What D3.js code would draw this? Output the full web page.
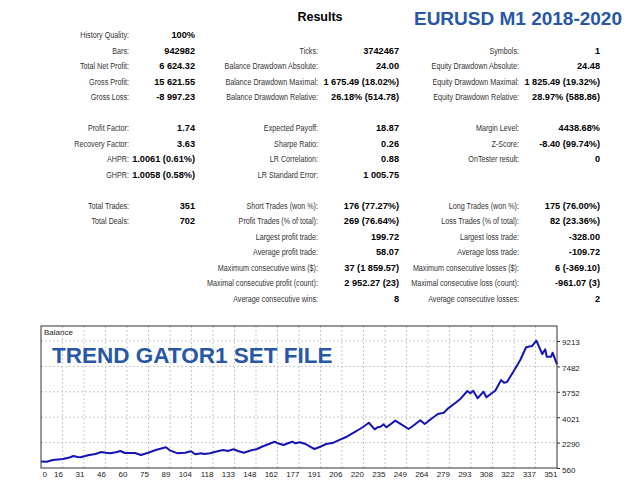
<!DOCTYPE html>
<html>
<head>
  <meta charset="utf-8">
  <title>Results</title>
  <style>
    body { margin: 0; background: #fff; }
    svg { display: block; font-family: "Liberation Sans", Arial, sans-serif; }
    .lbl { font-size: 9px; fill: #333; }
    .val { font-size: 9.2px; font-weight: bold; fill: #000; }
    .axis text { font-size: 8px; fill: #222; }
    .grid line { stroke: #c8c8c8; stroke-dasharray: 2,2; }
  </style>
</head>
<body>
<svg id="chart" width="640" height="480"></svg>
<script src="https://d3js.org/d3.v7.min.js"></script>
<script>
  // report rows: [row, label, value]
  const col1 = [
    [0, "History Quality:", "100%"],
    [1, "Bars:", "942982"],
    [2, "Total Net Profit:", "6 624.32"],
    [3, "Gross Profit:", "15 621.55"],
    [4, "Gross Loss:", "-8 997.23"],
    [6, "Profit Factor:", "1.74"],
    [7, "Recovery Factor:", "3.63"],
    [8, "AHPR:", "1.0061 (0.61%)"],
    [9, "GHPR:", "1.0058 (0.58%)"],
    [11, "Total Trades:", "351"],
    [12, "Total Deals:", "702"]
  ];
  const col2 = [
    [1, "Ticks:", "3742467"],
    [2, "Balance Drawdown Absolute:", "24.00"],
    [3, "Balance Drawdown Maximal:", "1 675.49 (18.02%)"],
    [4, "Balance Drawdown Relative:", "26.18% (514.78)"],
    [6, "Expected Payoff:", "18.87"],
    [7, "Sharpe Ratio:", "0.26"],
    [8, "LR Correlation:", "0.88"],
    [9, "LR Standard Error:", "1 005.75"],
    [11, "Short Trades (won %):", "176 (77.27%)"],
    [12, "Profit Trades (% of total):", "269 (76.64%)"],
    [13, "Largest profit trade:", "199.72"],
    [14, "Average profit trade:", "58.07"],
    [15, "Maximum consecutive wins ($):", "37 (1 859.57)"],
    [16, "Maximal consecutive profit (count):", "2 952.27 (23)"],
    [17, "Average consecutive wins:", "8"]
  ];
  const col3 = [
    [1, "Symbols:", "1"],
    [2, "Equity Drawdown Absolute:", "24.48"],
    [3, "Equity Drawdown Maximal:", "1 825.49 (19.32%)"],
    [4, "Equity Drawdown Relative:", "28.97% (588.86)"],
    [6, "Margin Level:", "4438.68%"],
    [7, "Z-Score:", "-8.40 (99.74%)"],
    [8, "OnTester result:", "0"],
    [11, "Long Trades (won %):", "175 (76.00%)"],
    [12, "Loss Trades (% of total):", "82 (23.36%)"],
    [13, "Largest loss trade:", "-328.00"],
    [14, "Average loss trade:", "-109.72"],
    [15, "Maximum consecutive losses ($):", "6 (-369.10)"],
    [16, "Maximal consecutive loss (count):", "-961.07 (3)"],
    [17, "Average consecutive losses:", "2"]
  ];

  // balance curve (trade number, balance)
  const trades = [0,4,8,15,20,22,25,27,32,37,41,44,47,51,54,57,64,68,73,78,
    85,88,93,98,102,105,109,111,115,120,124,127,131,134,138,142,147,151,155,159,
    161,165,168,171,173,176,180,183,186,190,194,199,203,208,215,219,223,227,229,231,
    233,235,241,244,250,253,258,261,266,270,274,277,280,282,285,290,292,294,297,301,
    303,307,309,313,315,317,322,326,330,334,337,341,343,344,347,348,351];
  const balance = [1000,990,1105,1175,1290,1380,1310,1290,1425,1515,1650,1600,1560,1630,1720,1580,1580,1445,1600,1785,
    1970,1740,1560,1600,1700,1495,1560,1515,1560,1700,1785,1720,1835,1720,1600,1740,1855,2040,2195,2350,
    2245,2125,2245,2350,2245,2310,2195,2010,1855,2010,2195,2285,2470,2690,3100,3355,3645,3195,3335,3375,
    3535,3335,3785,3605,3215,3420,3810,3560,3945,4240,4330,4625,4850,5010,5240,5805,5650,5825,5310,5760,
    5375,5690,5825,6555,6370,6420,7235,7920,8785,8870,9235,8325,8645,8145,8145,8415,7624];

  const xLabels = ["0","16","31","46","60","75","89","104","118","133","148","162","177",
    "191","206","220","235","249","264","279","293","308","322","337","351"];
  const yTicks = [560, 2290, 4021, 5752, 7482, 9213];

  const svg = d3.select("#chart");
  const blue = "#2857a6";

  // titles
  svg.append("text")
    .attr("x", 320).attr("y", 21)
    .attr("text-anchor", "middle")
    .style("font-size", "12.5px").style("font-weight", "bold")
    .text("Results");

  svg.append("text")
    .attr("x", 622).attr("y", 25)
    .attr("text-anchor", "end")
    .style("font-size", "19px").style("font-weight", "bold")
    .style("fill", blue)
    .text("EURUSD M1 2018-2020");

  // table
  const rowY = r => 38 + r * 15.5;
  const cols = [
    { rows: col1, lx: 129, vx: 195 },
    { rows: col2, lx: 318, vx: 399 },
    { rows: col3, lx: 519, vx: 600 }
  ];
  cols.forEach(c => {
    svg.append("g").selectAll("g")
      .data(c.rows)
      .join("g")
      .attr("transform", d => `translate(${c.lx},${rowY(d[0])}) scale(0.8,1)`)
      .append("text")
      .attr("class", "lbl")
      .attr("text-anchor", "end")
      .text(d => d[1]);

    svg.append("g").selectAll("text")
      .data(c.rows)
      .join("text")
      .attr("class", "val")
      .attr("x", c.vx)
      .attr("y", d => rowY(d[0]))
      .attr("text-anchor", "end")
      .text(d => d[2]);
  });

  // balance chart
  const pLeft = 41, pRight = 557, pTop = 326, pBottom = 468;

  const x = d3.scaleLinear().domain([0, 351]).range([pLeft, pRight]);
  const y = d3.scaleLinear().domain([560, 10235]).range([pBottom, pTop]);
  const xTickVals = xLabels.map((d, i) => i * 351 / (xLabels.length - 1));

  svg.append("g").attr("class", "grid")
    .selectAll("line")
    .data(xTickVals.slice(1, -1))
    .join("line")
    .attr("x1", d => x(d)).attr("x2", d => x(d))
    .attr("y1", pTop).attr("y2", pBottom);

  svg.append("g").attr("class", "grid")
    .selectAll("line")
    .data(yTicks.slice(1))
    .join("line")
    .attr("x1", pLeft).attr("x2", pRight)
    .attr("y1", d => y(d)).attr("y2", d => y(d));

  const line = d3.line()
    .x((d, i) => x(trades[i]))
    .y(d => y(d));

  svg.append("path")
    .datum(balance)
    .attr("fill", "none")
    .attr("stroke", "#1414b4")
    .attr("stroke-width", 2)
    .attr("stroke-linejoin", "round")
    .attr("d", line);

  svg.append("rect")
    .attr("x", pLeft).attr("y", pTop)
    .attr("width", pRight - pLeft).attr("height", pBottom - pTop)
    .attr("fill", "none")
    .attr("stroke", "#333");

  svg.append("text")
    .attr("x", pLeft + 3).attr("y", pTop + 9)
    .style("font-size", "8px").style("fill", "#222")
    .text("Balance");

  svg.append("text")
    .attr("x", 52).attr("y", 363)
    .style("font-size", "22.5px").style("font-weight", "bold")
    .style("fill", blue)
    .text("TREND GATOR1 SET FILE");

  // axes
  const xAxis = svg.append("g")
    .attr("class", "axis")
    .attr("transform", `translate(0,${pBottom})`)
    .call(d3.axisBottom(x).tickValues(xTickVals)
      .tickFormat((d, i) => xLabels[i]).tickSize(0).tickPadding(3));
  xAxis.select(".domain").remove();
  xAxis.selectAll("text")
    .attr("text-anchor", (d, i) => i === 0 ? "start" : "end")
    .attr("dx", (d, i) => i === 0 ? "1" : "0");

  const yAxis = svg.append("g")
    .attr("class", "axis")
    .attr("transform", `translate(${pRight},0)`)
    .call(d3.axisRight(y).tickValues(yTicks).tickFormat(d3.format("d"))
      .tickSize(3).tickPadding(2));
  yAxis.select(".domain").remove();
  yAxis.selectAll("line").attr("stroke", "#333");
  yAxis.selectAll("text").attr("dy", "0.5em");
</script>
</body>
</html>
